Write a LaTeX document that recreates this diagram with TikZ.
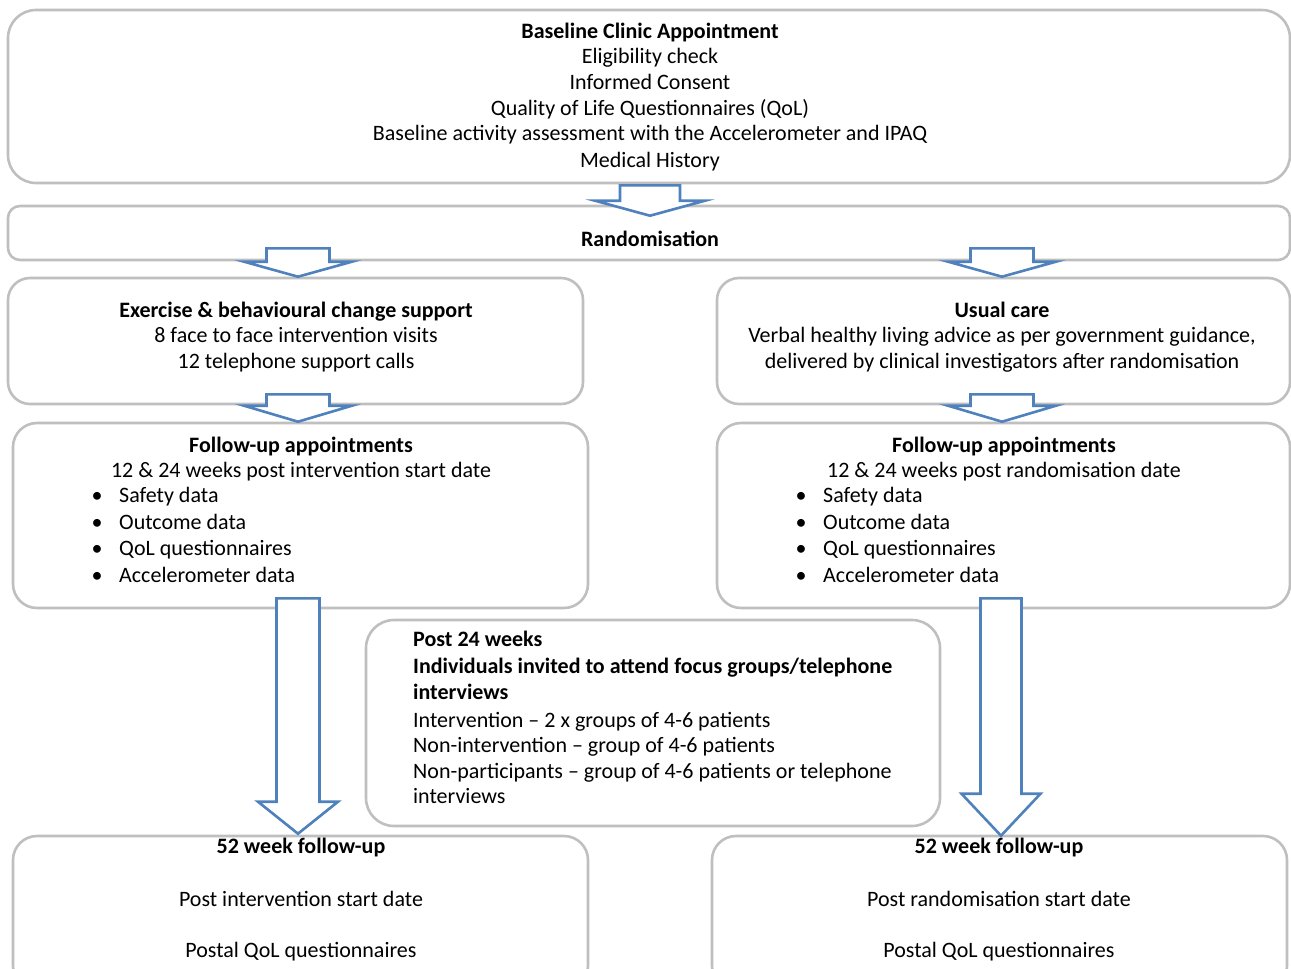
\documentclass[tikz,border=0pt]{standalone}
\usepackage{fontspec}
\setmainfont{Carlito}
\usetikzlibrary{positioning,calc}
\definecolor{boxgray}{HTML}{BFBFBF}
\definecolor{arrowblue}{HTML}{4F81BD}
\newcommand{\fs}{\fontsize{22}{26}\selectfont}
% block arrow: x, source node, target node, shaft half, head half, head length, top inset, tip inset
\newcommand{\blockarrow}[8]{%
	\draw[blk] let \p1=(#2.south), \p2=(#3.north) in
	({#1pt-#4pt},{\y1+#7pt}) -- ({#1pt+#4pt},{\y1+#7pt}) -- ({#1pt+#4pt},{\y2+#8pt+#6pt})
	-- ({#1pt+#5pt},{\y2+#8pt+#6pt}) -- ({#1pt},{\y2+#8pt}) -- ({#1pt-#5pt},{\y2+#8pt+#6pt})
	-- ({#1pt-#4pt},{\y2+#8pt+#6pt}) -- cycle;}
\begin{document}
\begin{tikzpicture}[x=1pt,y=-1pt,
		frame/.style={draw=boxgray,line width=2.6pt,fill=white,inner sep=0pt},
		txt/.style={font=\fs,inner sep=0pt,anchor=base},
		hd/.style={txt,font=\fs\bfseries},
		item/.style={txt,anchor=base west},
		blk/.style={draw=arrowblue,line width=2.6pt,fill=white,line join=miter}
		]
		\useasboundingbox (0,0) rectangle (1291,969);
		
		% --- Frames
		\node[frame,rounded corners=28pt,minimum width=1282pt,minimum height=173pt] (base) at (649,96.5) {};
		\node[frame,rounded corners=12pt,minimum width=1282pt,minimum height=54pt] (rand) at (649,233) {};
		\node[frame,rounded corners=22pt,minimum width=575pt,minimum height=126pt] (exer) at (295.5,341) {};
		\node[frame,rounded corners=22pt,minimum width=573pt,minimum height=126pt] (usual) at (1003.5,341) {};
		\node[frame,rounded corners=24pt,minimum width=575pt,minimum height=185pt] (fuL) at (300.5,515.5) {};
		\node[frame,rounded corners=24pt,minimum width=573pt,minimum height=185pt] (fuR) at (1003.5,515.5) {};
		\node[frame,rounded corners=28pt,minimum width=574pt,minimum height=206pt] (post) at (653,723) {};
		\node[frame,rounded corners=24pt,minimum width=575pt,minimum height=154pt] (wkL) at (300.5,913) {};
		\node[frame,rounded corners=24pt,minimum width=575pt,minimum height=154pt] (wkR) at (999.5,913) {};
		
		% --- Block arrows
		\blockarrow{650}{base}{rand}{30}{55}{15}{-1}{-11}
		\blockarrow{298}{rand}{exer}{31.5}{54}{15}{13}{0}
		\blockarrow{1002}{rand}{usual}{31.5}{54}{15}{13}{0}
		\blockarrow{298}{exer}{fuL}{31.5}{54}{16}{11}{0}
		\blockarrow{1002}{usual}{fuR}{31.5}{54}{16}{11}{0}
		\blockarrow{298}{fuL}{wkL}{21.5}{40}{32}{11}{1}
		\blockarrow{1001}{fuR}{wkR}{20.5}{39.5}{42}{11}{-1}
		
		% --- Baseline clinic appointment
		\node[hd] (baseT) at (650,38) {Baseline Clinic Appointment};
		\foreach \t/\yy [count=\i] in {Eligibility check/63, Informed Consent/89,
			Quality of Life Questionnaires (QoL)/115,
			Baseline activity assessment with the Accelerometer and IPAQ/140, Medical History/167}
		\node[txt] (baseL\i) at (650,\yy) {\t};
		
		\node[hd] (randT) at (650,246) {Randomisation};
		
		% --- Arms
		\node[hd] (exerT) at (296,317) {Exercise \& behavioural change support};
		\node[txt] (exerA) at (296,342) {8 face to face intervention visits};
		\node[txt] (exerB) at (296,368) {12 telephone support calls};
		
		\node[hd] (usualT) at (1002,317) {Usual care};
		\node[txt] (usualA) at (1002,342) {Verbal healthy living advice as per government guidance,};
		\node[txt] (usualB) at (1002,368) {delivered by clinical investigators after randomisation};
		
		% --- Follow-up appointments
		\node[hd] (fuLT) at (301,452) {Follow-up appointments};
		\node[txt] (fuLA) at (301,477) {12 \& 24 weeks post intervention start date};
		\node[hd] (fuRT) at (1004,452) {Follow-up appointments};
		\node[txt] (fuRA) at (1004,477) {12 \& 24 weeks post randomisation date};
		\foreach \t/\yy [count=\i] in {Safety data/502, Outcome data/529, QoL questionnaires/555, Accelerometer data/582}{
			\node[txt] (bL\i) at (97,\yy) {•};
			\node[item] (iL\i) at (119,\yy) {\t};
			\node[txt] (bR\i) at (801,\yy) {•};
			\node[item] (iR\i) at (823,\yy) {\t};
		}
		
		% --- Post 24 weeks
		\node[item,font=\fs\bfseries] (postA) at (413,646) {Post 24 weeks};
		\node[item,font=\fs\bfseries] (postB) at (413,673) {Individuals invited to attend focus groups/telephone};
		\node[item,font=\fs\bfseries] (postC) at (413,699) {interviews};
		\node[item] (postD) at (413,727) {Intervention – 2 x groups of 4-6 patients};
		\node[item] (postE) at (413,752) {Non-intervention – group of 4-6 patients};
		\node[item] (postF) at (413,778) {Non-participants – group of 4-6 patients or telephone};
		\node[item] (postG) at (413,803) {interviews};
		
		% --- 52 week follow-up
		\node[hd] (wkLT) at (301,853) {52 week follow-up};
		\node[txt] (wkLA) at (301,906) {Post intervention start date};
		\node[txt] (wkLB) at (301,957) {Postal QoL questionnaires};
		\node[hd] (wkRT) at (999,853) {52 week follow-up};
		\node[txt] (wkRA) at (999,906) {Post randomisation start date};
		\node[txt] (wkRB) at (999,957) {Postal QoL questionnaires};
		
	\end{tikzpicture}
\end{document}
